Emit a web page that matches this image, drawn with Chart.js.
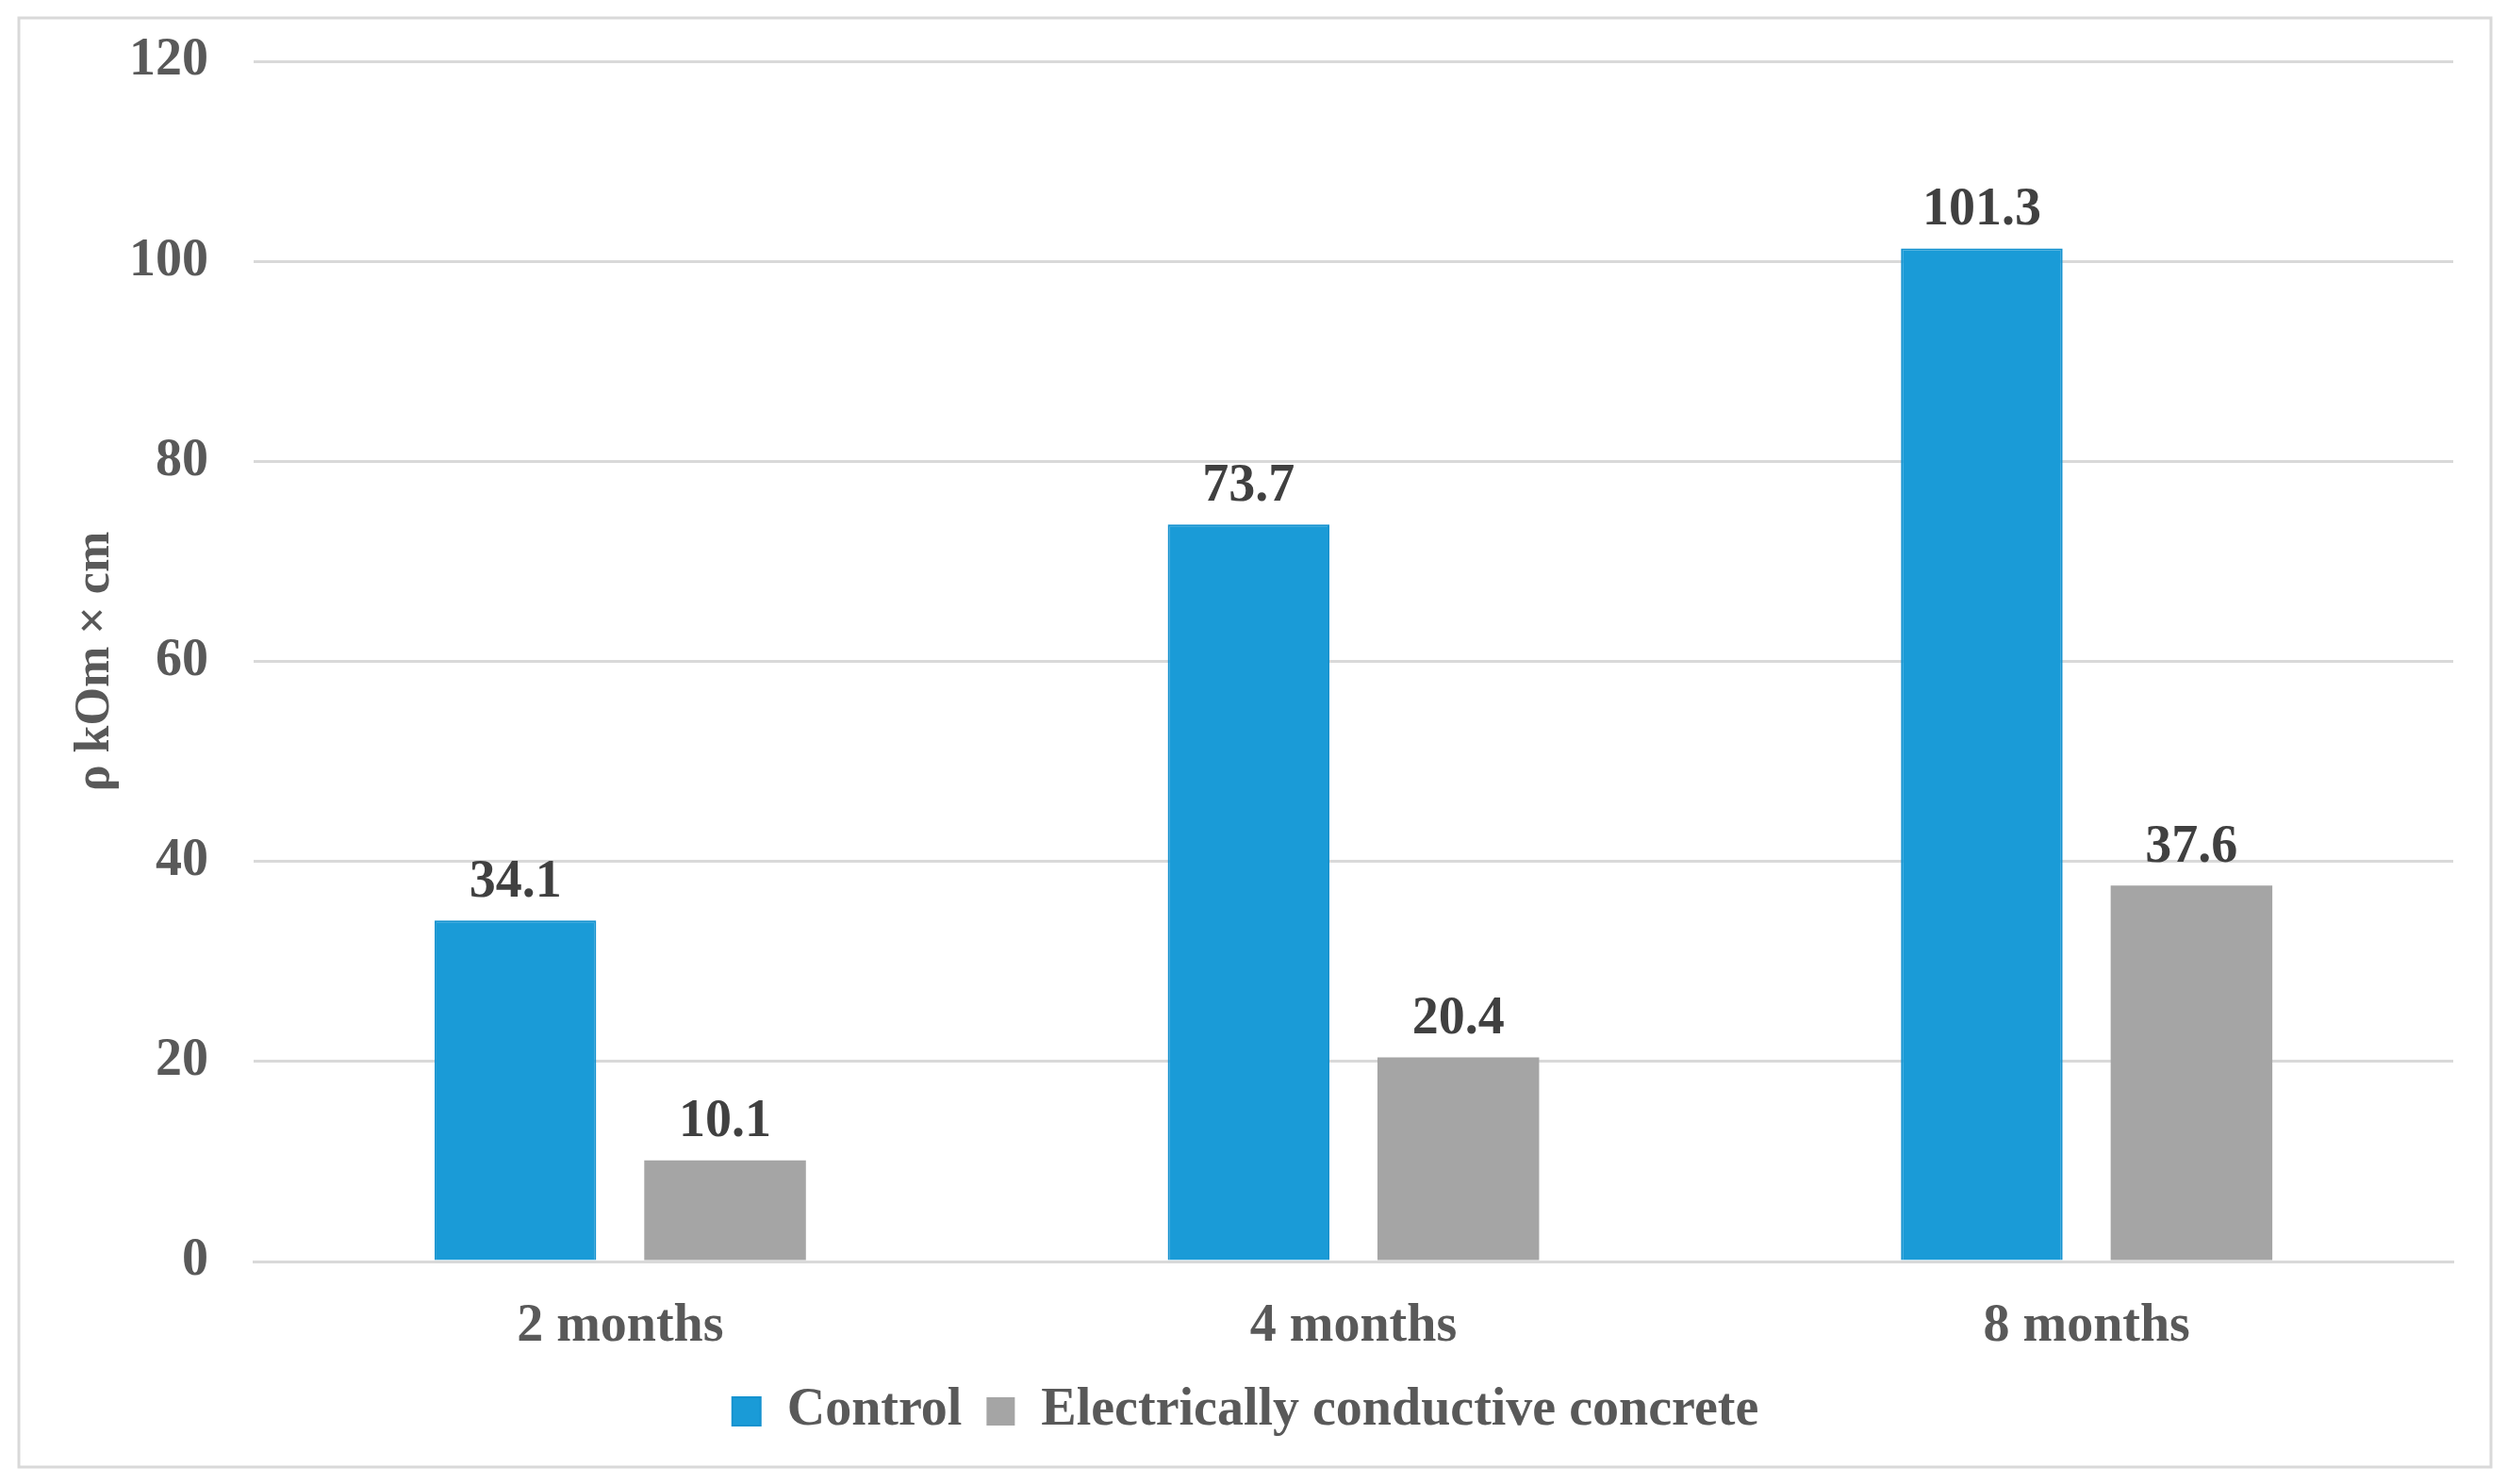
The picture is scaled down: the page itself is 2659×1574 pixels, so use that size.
<!DOCTYPE html>
<html>
<head>
<meta charset="utf-8">
<script src="https://cdn.jsdelivr.net/npm/chart.js@4"></script>
<style>
  html, body { margin: 0; padding: 0; background: #fff; }
  #wrap { width: 2659px; height: 1574px; position: relative; }
</style>
</head>
<body>
<div id="wrap"><canvas id="myChart"></canvas></div>
<script>
const categories = ['2 months', '4 months', '8 months'];
const controlValues = [34.1, 73.7, 101.3];
const conductiveValues = [10.1, 20.4, 37.6];
const seriesNames = ['Control', 'Electrically conductive concrete'];
const yTicks = [0, 20, 40, 60, 80, 100, 120];

const FONT = '"Liberation Serif", "Times New Roman", Times, serif';

// white background + light frame around the chart
const frame = {
    id: 'frame',
    beforeDraw(chart) {
        const c = chart.ctx;
        c.save();
        c.fillStyle = '#ffffff';
        c.fillRect(0, 0, chart.width, chart.height);
        c.strokeStyle = '#d9d9d9';
        c.lineWidth = 3;
        c.strokeRect(20, 19, 2622, 1537);
        c.restore();
    }
};

// value labels above the bars
const valueLabels = {
    id: 'valueLabels',
    afterDatasetsDraw(chart) {
        const c = chart.ctx;
        c.save();
        c.font = 'bold 56px ' + FONT;
        c.fillStyle = '#404040';
        c.textAlign = 'center';
        c.textBaseline = 'middle';
        chart.data.datasets.forEach((ds, i) => {
            chart.getDatasetMeta(i).data.forEach((bar, j) => {
                c.fillText(ds.data[j].toFixed(1), bar.x, bar.y - 40);
            });
        });
        c.restore();
    }
};

new Chart(document.getElementById('myChart').getContext('2d'), {
    type: 'bar',
    data: {
        labels: categories,
        datasets: [{
            label: seriesNames[0],
            data: controlValues,
            backgroundColor: '#1a9bd7',
            borderColor: '#1592cf',
            borderWidth: 2
        }, {
            label: seriesNames[1],
            data: conductiveValues,
            backgroundColor: '#a5a5a5',
            borderWidth: 0
        }]
    },
    options: {
        responsive: true,
        maintainAspectRatio: false,
        animation: false,
        devicePixelRatio: 1,
        categoryPercentage: 0.572,
        barPercentage: 0.771,
        layout: {
            padding: { left: 40, right: 57, top: 65, bottom: 39 }
        },
        scales: {
            x: {
                grid: { display: false, drawTicks: false },
                border: { color: '#d9d9d9', width: 3 },
                ticks: {
                    color: '#595959',
                    padding: 36,
                    font: { family: FONT, size: 56, weight: 'bold' }
                },
                afterFit(scale) { scale.height = 105; }
            },
            y: {
                min: 0,
                max: 120,
                afterBuildTicks(scale) { scale.ticks = yTicks.map(v => ({ value: v })); },
                grid: { color: '#d9d9d9', lineWidth: 3, drawTicks: false },
                border: { display: false },
                ticks: {
                    color: '#595959',
                    padding: 48,
                    font: { family: FONT, size: 56, weight: 'bold' }
                },
                title: {
                    display: true,
                    text: 'ρ kOm × cm',
                    color: '#595959',
                    padding: { top: 30, bottom: 0 },
                    font: { family: FONT, size: 52, weight: 'bold' }
                },
                afterFit(scale) {
                    scale.width = 229;
                    scale.paddingTop = 0;
                    scale.paddingBottom = 0;
                }
            }
        },
        plugins: {
            legend: {
                position: 'bottom',
                onClick: null,
                labels: {
                    color: '#595959',
                    boxWidth: 30,
                    boxHeight: 30,
                    padding: 26,
                    font: { family: FONT, size: 56, weight: 'bold' }
                }
            },
            tooltip: { enabled: false }
        }
    },
    plugins: [frame, valueLabels]
});
</script>
</body>
</html>
